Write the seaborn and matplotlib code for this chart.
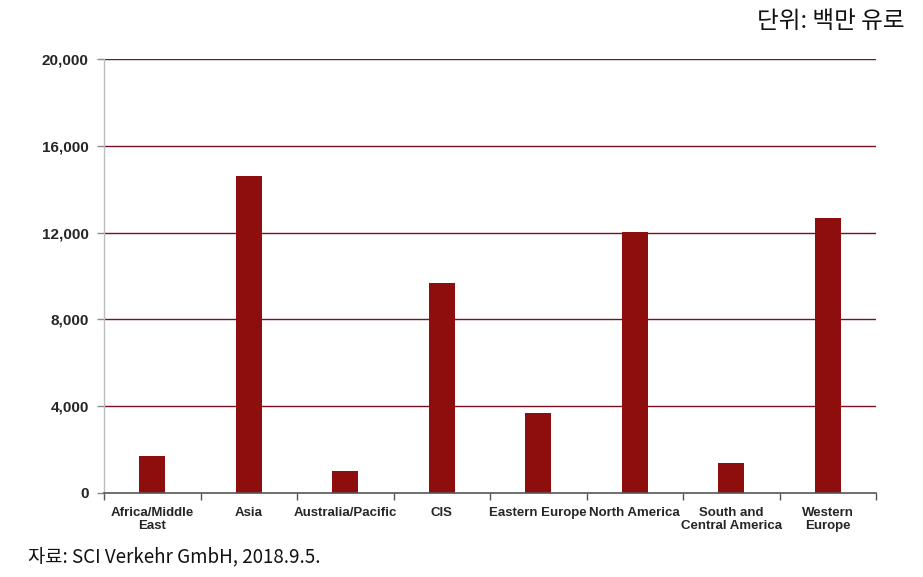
import matplotlib
matplotlib.use("Agg")
import matplotlib.pyplot as plt
import seaborn as sns
import pandas as pd
from matplotlib.ticker import FixedLocator, FuncFormatter

categories = ["Africa/Middle\nEast", "Asia", "Australia/Pacific", "CIS", "Eastern Europe",
              "North America", "South and\nCentral America", "Western\nEurope"]
values = [1700, 14600, 1000, 9700, 3700, 12050, 1400, 12650]
yticks = [0, 4000, 8000, 12000, 16000, 20000]

sns.set_theme(style="white")
plt.rcParams['font.family'] = ['Liberation Sans', 'Noto Sans CJK KR', 'DejaVu Sans']

df = pd.DataFrame({"region": categories, "value": values})

fig = plt.figure(figsize=(9.23, 5.77), dpi=100)
ax = fig.add_axes([104/923, 1-493/577, (876-104)/923, (493-59)/577])

sns.barplot(data=df, x="region", y="value", color="#8E0E0E", width=0.27,
            saturation=1, linewidth=0, ax=ax, zorder=3)

ax.set_ylim(0, 20000)
ax.set_xlim(-0.5, len(categories)-0.5)
ax.set_yticks(yticks)
ax.yaxis.set_major_formatter(FuncFormatter(lambda v, p: f"{int(v):,}"))
for t in yticks[1:]:
    ax.axhline(t, color="#7A1020", lw=1.0, zorder=1)

ax.set_xlabel("")
ax.set_ylabel("")
for s in ["top", "right"]:
    ax.spines[s].set_visible(False)
ax.spines["left"].set_color("#BDBDBD")
ax.spines["left"].set_linewidth(1.0)
ax.spines["bottom"].set_color("#555555")
ax.spines["bottom"].set_linewidth(1.2)
ax.spines["bottom"].set_zorder(4)

ax.tick_params(axis="x", which="major", length=0, pad=10, labelsize=9.5)
ax.xaxis.set_minor_locator(FixedLocator([i - 0.5 for i in range(len(categories)+1)]))
ax.tick_params(axis="x", which="minor", length=5, width=1, color="#555555", direction="out", bottom=True)
ax.tick_params(axis="y", length=5, width=1, color="#888888", left=True, labelsize=11, pad=6)
for lab in ax.get_xticklabels():
    lab.set_fontweight("bold")
    lab.set_linespacing(1.1)
for lab in ax.get_yticklabels():
    lab.set_fontweight("bold")

fig.text(905/923, 1-22/577, "단위: 백만 유로", ha="right", va="center",
         fontsize=17, family=['Noto Sans CJK KR', 'DejaVu Sans'], color="#111111")
fig.text(28/923, 1-557/577, "자료: SCI Verkehr GmbH, 2018.9.5.", ha="left", va="center",
         fontsize=13.5, family=['Noto Sans CJK KR', 'DejaVu Sans'], color="#111111")

fig.savefig("out.png", dpi=100, facecolor="white")
